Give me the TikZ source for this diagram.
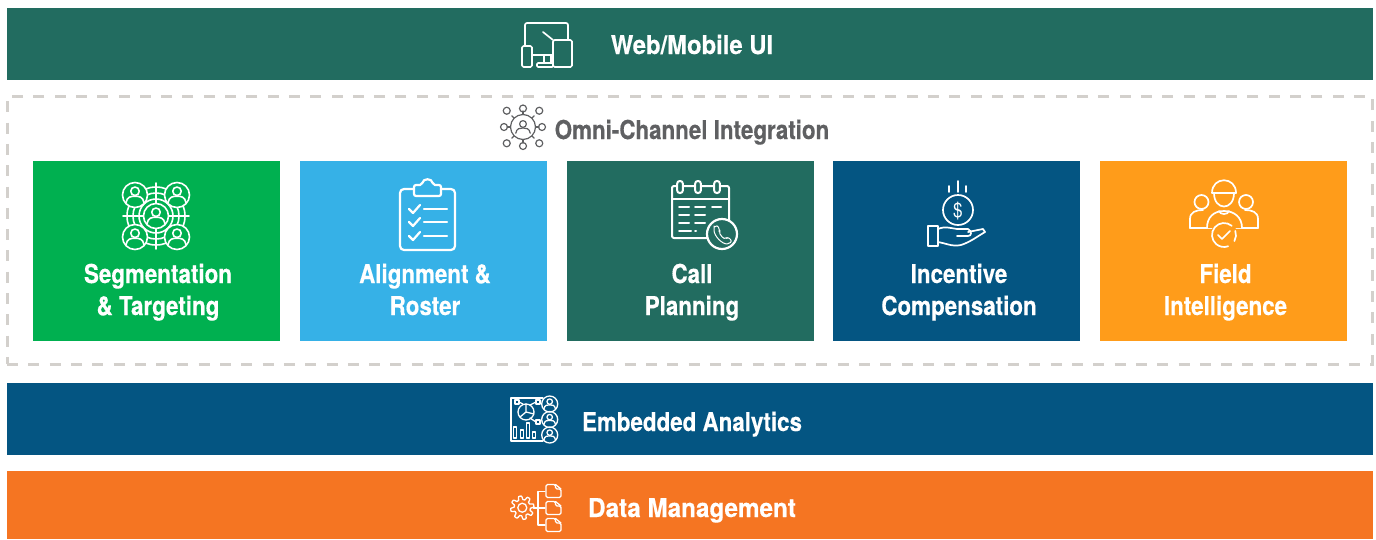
\documentclass[tikz,border=0pt]{standalone}
\usepackage{fontspec}
\setmainfont{TeX Gyre Heros}[FakeStretch=0.86, BoldFeatures={FakeBold=0.35}]
\definecolor{tealbar}{HTML}{226C60}
\definecolor{navybar}{HTML}{045582}
\definecolor{orangebar}{HTML}{F57522}
\definecolor{greentile}{HTML}{00B050}
\definecolor{skytile}{HTML}{36B1E7}
\definecolor{ambertile}{HTML}{FF9C1A}
\definecolor{dashgray}{HTML}{D3D0CC}
\definecolor{textgray}{HTML}{5F6062}
% head and shoulders, centre and radius of the ring around it
\newcommand{\personglyph}[3]{
  \begin{scope}[shift={(#1,#2)},scale=#3]
    \draw (0,.3) circle (.34);
    \draw (-.72,-.62) .. controls (-.65,-.12) and (-.3,-.1) .. (0,-.1) .. controls (.3,-.1) and (.65,-.12) .. (.72,-.62);
  \end{scope}
}
\newcommand{\checkglyph}[2]{
  \draw (#1-6,#2) -- (#1-2,#2-4) -- (#1+6,#2+4);
}
\newcommand{\folderglyph}[2]{
  \draw[rounded corners=1.5] (#1-7.5,#2-6.5) -- (#1-7.5,#2+6.5) -- (#1+2,#2+6.5) -- (#1+2,#2+2) -- (#1+7.5,#2+2) -- (#1+7.5,#2-6.5) -- cycle;
  \draw (#1+2,#2+6.5) -- (#1+7.5,#2+2);
}
\begin{document}
\begin{tikzpicture}[x=1pt, y=1pt,
    bar/.style={rectangle, fill=#1, minimum width=1366pt, inner sep=0pt, outer sep=0pt},
    tile/.style={rectangle, fill=#1, minimum width=247pt, minimum height=180pt, inner sep=0pt, outer sep=0pt},
    lbl/.style={anchor=base, text=white, inner sep=0pt, align=center, font=\fontsize{26}{32}\selectfont\bfseries},
    wide/.style={transform shape, xscale=#1},
    icon/.style={draw=white, line width=2pt, line cap=round, line join=round},
    thin/.style={icon, line width=1.3pt}]
  \useasboundingbox (0,-539) rectangle (1376,0);
  % bars
  \node[bar=tealbar, minimum height=72pt] (webbar) at (690,-44) {};
  \node[bar=navybar, minimum height=72pt] (analyticsbar) at (690,-419) {};
  \node[bar=orangebar, minimum height=68pt] (databar) at (690,-505) {};
  % dashed frame
  \node[draw=dashgray, line width=3pt, dash pattern=on 11pt off 10.3pt, minimum width=1365pt, minimum height=268pt, inner sep=0pt] (omniframe) at (689.5,-230) {};
  % tiles
  \node[tile=greentile] (segtile) at (156.5,-251) {};
  \node[tile=skytile] (aligntile) at (423.5,-251) {};
  \node[tile=tealbar] (calltile) at (690.5,-251) {};
  \node[tile=navybar] (incentivetile) at (956.5,-251) {};
  \node[tile=ambertile] (fieldtile) at (1223.5,-251) {};
  % labels
  \node[lbl, wide=1.066] (weblbl) at (692,-54) {Web/Mobile UI};
  \node[lbl, text=textgray] (omnilbl) at (692,-139) {Omni-Channel Integration};
  \node[lbl] (seglbl) at (158,-315) {Segmentation\\\& Targeting};
  \node[lbl] (alignlbl) at (425,-315) {Alignment \&\\Roster};
  \node[lbl] (calllbl) at (692,-315) {Call\\Planning};
  \node[lbl] (incentivelbl) at (959,-315) {Incentive\\Compensation};
  \node[lbl] (fieldlbl) at (1225.5,-315) {Field\\Intelligence};
  \node[lbl] (analyticslbl) at (692,-431) {Embedded Analytics};
  \node[lbl, wide=1.084] (datalbl) at (692,-517) {Data Management};
  % web icon
  \begin{scope}[icon, line width=1.7pt]
    \draw[rounded corners=2] (525,-45) -- (525,-23) -- (568,-23) -- (568,-40);
    \draw[rounded corners=1.5] (553,-40) rectangle (572,-67);
    \draw[rounded corners=1.5] (522,-46) rectangle (532,-67);
    \draw (543,-32) -- (553,-40);
    \draw (532,-55) -- (553,-55);
    \draw (544,-55) -- (544,-63) (551,-55) -- (551,-63);
    \draw[rounded corners=1] (537,-67) rectangle (553,-63);
  \end{scope}
  % omni icon
  \begin{scope}[icon, draw=textgray, line width=1.2pt]
    \draw (523,-127) circle (12.5);
    \personglyph{523}{-127}{10}
    \foreach \a in {0,45,...,315} {
      \draw (\a:12.5) ++(523,-127) -- ++(\a:3.5);
    }
    \foreach \a/\r in {0/19,90/18.5,180/19,270/19,45/23,135/23,225/23,315/23} {
      \draw (\a:\r) ++(523,-127) circle (3.5);
    }
  \end{scope}
  % segmentation icon
  \begin{scope}[icon, line width=1.6pt]
    \foreach \r in {17,23,29} {\draw (156,-216) circle (\r);}
    \draw (123,-216) -- (189,-216) (156,-183) -- (156,-249);
    \foreach \x/\y in {135/-195,177/-195,135/-237,177/-237} {
      \draw[fill=greentile] (\x,\y) circle (12.5);
      \personglyph{\x}{\y}{12.5}
    }
    \draw[fill=greentile] (156,-216) circle (12.5);
    \personglyph{156}{-216}{12.5}
  \end{scope}
  % clipboard icon
  \begin{scope}[icon, line width=2.2pt]
    \draw[rounded corners=4] (414,-189) -- (400,-189) -- (400,-250) -- (455,-250) -- (455,-189) -- (441,-189);
    \draw[rounded corners=2] (414,-196) -- (414,-185) -- (422,-185) .. controls (423,-178) and (432,-178) .. (433,-185) -- (441,-185) -- (441,-196) -- cycle;
    \foreach \y in {-209,-222,-236} {
      \draw (409,\y) -- (413,\y-4) -- (420,\y+4);
      \draw (424,\y) -- (447,\y);
    }
  \end{scope}
  % calendar icon
  \begin{scope}[icon]
    \draw[rounded corners=2] (672,-186) rectangle (729,-238);
    \draw (672,-199) -- (729,-199);
    \foreach \x in {680,698,717} {
      \draw[fill=tealbar, rounded corners=2.5] (\x-2.8,-181) rectangle (\x+2.8,-193);
    }
    \foreach \y in {-207,-215,-223} {
      \draw (679,\y) -- (689,\y) (695,\y) -- (705,\y);
    }
    \draw (712,-207) -- (721,-207);
    \draw (679,-231) -- (691,-231) (695,-231) -- (696,-231);
    \draw[fill=tealbar, line width=2.2pt] (722,-234) circle (15);
    \draw[thin, line width=1pt, rounded corners=2] (714,-228) -- (717,-225) -- (720,-230) -- (719,-232) .. controls (721,-236) and (723,-238) .. (726,-239) -- (728,-237) -- (732,-241) -- (729,-244) .. controls (722,-244) and (714,-236) .. cycle;
  \end{scope}
  % incentive icon
  \begin{scope}[icon, line width=1.7pt]
    \draw (958,-210) circle (15);
    \draw (949,-186) -- (949,-192) (958,-181) -- (958,-192) (966,-186) -- (966,-192);
    \node[lbl, font=\fontsize{20}{20}\selectfont] (dollarlbl) at (958,-217) {\$};
    \draw (928,-226) rectangle (938,-246);
    \draw (938,-229) .. controls (945,-226) and (950,-228) .. (957,-229) -- (968,-229) .. controls (972,-231) and (972,-236) .. (968,-236) -- (957,-236);
    \draw (968,-232) -- (983,-229) -- (985,-232) .. controls (975,-238) and (970,-242) .. (961,-245) .. controls (952,-247) and (945,-243) .. (938,-242);
  \end{scope}
  % field icon
  \begin{scope}[icon, line width=1.7pt]
    \draw (1201.5,-202) circle (7);
    \draw (1246,-202) circle (7);
    \draw (1190,-228) -- (1190,-219) .. controls (1190,-212) and (1196,-210) .. (1203,-210) (1245,-210) .. controls (1252,-210) and (1258,-212) .. (1258,-219) -- (1258,-228);
    \draw (1190,-228) -- (1258,-228);
    \draw[fill=ambertile] (1207,-228) .. controls (1207,-217) and (1214,-211) .. (1224,-211) .. controls (1234,-211) and (1242,-217) .. (1242,-228);
    \draw[fill=ambertile] (1214,-193) .. controls (1214,-211) and (1234,-211) .. (1234,-193) -- cycle;
    \draw (1212,-193) .. controls (1212,-176) and (1236,-176) .. (1236,-193) -- cycle;
    \draw (1219,-211) .. controls (1220,-215) and (1228,-215) .. (1229,-211);
    \draw[fill=ambertile, draw=ambertile, line width=3pt] (1224,-235) circle (12);
    \draw (1224,-235) ++(50:12) arc (50:290:12);
    \draw (1224,-235) ++(-30:12) arc (-30:20:12);
    \checkglyph{1224}{-235}
  \end{scope}
  % analytics icon
  \begin{scope}[icon, line width=1.3pt]
    \draw (543,-398) -- (511,-398) -- (511,-441) -- (543,-441);
    \draw (526,-412) circle (8);
    \draw (526,-412) -- (526,-404) (526,-412) -- (534,-414) (526,-412) -- (520,-417);
    \draw (515,-400) rectangle (519,-404);
    \draw (536,-400) rectangle (540,-404);
    \draw (536,-420) rectangle (540,-424);
    \draw (519,-402) -- (523,-404) (536,-402) -- (530,-405) (536,-422) -- (530,-418);
    \foreach \x/\y in {515/-427,522/-430,528/-423,534/-432} {
      \draw (\x-1.5,\y) rectangle (\x+1.5,-438);
    }
    \foreach \y in {-404,-419.5,-435} {
      \draw (549.7,\y) circle (8);
      \personglyph{549.7}{\y}{8}
    }
  \end{scope}
  % data icon
  \begin{scope}[icon, line width=1.3pt]
    \draw[smooth] plot[domain=0:360, samples=145] ({522.3+(9.9+1.8*max(-1,min(1,2*sin(8*\x))))*cos(\x)}, {-507.7+(9.9+1.8*max(-1,min(1,2*sin(8*\x))))*sin(\x)});
    \draw (522.3,-507.7) circle (4.5);
    \draw (538,-491.5) -- (545,-491.5) (538,-491.5) -- (538,-525) -- (545,-525) (533.5,-508) -- (545,-508);
    \folderglyph{553.5}{-491}
    \folderglyph{553.5}{-508}
    \folderglyph{553.5}{-525}
  \end{scope}
\end{tikzpicture}
\end{document}
